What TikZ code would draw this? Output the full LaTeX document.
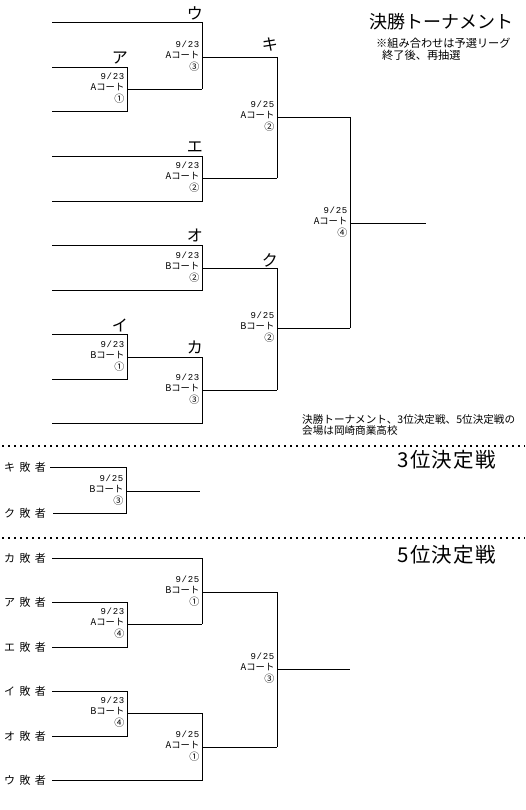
\documentclass[tikz,border=0pt]{standalone}
\usepackage{fontspec}
\setmainfont{Noto Sans CJK JP}
\newfontfamily\datefont[LetterSpace=8]{Liberation Mono}
\newfontfamily\spacedcjk[LetterSpace=40]{Noto Sans CJK JP}
\newfontfamily\headcjk[LetterSpace=7]{Noto Sans CJK JP}
\tikzset{
  br/.style={line width=0.9pt, line join=miter},
  mlab/.style={anchor=east, align=right, inner sep=0pt, font=\fontsize{9.3}{11.5}\selectfont},
  kana/.style={anchor=east, inner sep=0pt, font=\fontsize{16}{16}\selectfont},
  loser/.style={anchor=west, inner sep=0pt, font=\spacedcjk\fontsize{11}{11}\selectfont},
  sep/.style={line width=1.5pt, dash pattern=on 1.5pt off 4.5pt},
  head/.style={anchor=west, inner sep=0pt, font=\headcjk\fontsize{20.5}{20.5}\selectfont},
}
\newcommand\mlabel[6]{\node[mlab] (#1) at (#2-2.5,#3-1) {{\datefont\fontsize{9}{9}\selectfont #4}\\#5\\{\fontsize{10}{10}\selectfont #6}};}
\begin{document}
\begin{tikzpicture}[x=1pt,y=-1pt]
\fill[white] (0,0) rectangle (526,810);
\useasboundingbox (0,0) rectangle (526,810);

% ---------- Final tournament ----------
\coordinate (eU) at (52,22);
\coordinate (eA) at (52,67);
\coordinate (eA2) at (52,111);
\coordinate (eE) at (52,156);
\coordinate (eE2) at (52,201);
\coordinate (eO) at (52,245);
\coordinate (eO2) at (52,290);
\coordinate (eI) at (52,334);
\coordinate (eI2) at (52,379);
\coordinate (eK2) at (52,423);

\coordinate (m1) at (127,89);
\coordinate (m2) at (202,57);
\coordinate (m3) at (202,178);
\coordinate (m4) at (277,117);
\coordinate (m5) at (202,268);
\coordinate (m6) at (127,357);
\coordinate (m7) at (202,390);
\coordinate (m8) at (277,328);
\coordinate (mf) at (350,223);
\coordinate (wf) at (426,223);

\draw[br] (eA) -- (eA -| m1) -- (eA2 -| m1) -- (eA2);
\draw[br] (m1) -- (m1 -| m2);
\draw[br] (eU) -- (eU -| m2) -- (m1 -| m2);
\draw[br] (m2) -- (m2 -| m4);
\draw[br] (eE) -- (eE -| m3) -- (eE2 -| m3) -- (eE2);
\draw[br] (m3) -- (m3 -| m4);
\draw[br] (m2 -| m4) -- (m3 -| m4);
\draw[br] (m4) -- (m4 -| mf);
\draw[br] (eO) -- (eO -| m5) -- (eO2 -| m5) -- (eO2);
\draw[br] (m5) -- (m5 -| m8);
\draw[br] (eI) -- (eI -| m6) -- (eI2 -| m6) -- (eI2);
\draw[br] (m6) -- (m6 -| m7) -- (eK2 -| m7) -- (eK2);
\draw[br] (m7) -- (m7 -| m8);
\draw[br] (m5 -| m8) -- (m7 -| m8);
\draw[br] (m8) -- (m8 -| mf);
\draw[br] (m4 -| mf) -- (m8 -| mf);
\draw[br] (mf) -- (wf);

\mlabel{l1}{127}{89}{9/23}{Aコート}{①}
\mlabel{l2}{202}{57}{9/23}{Aコート}{③}
\mlabel{l3}{202}{178}{9/23}{Aコート}{②}
\mlabel{l4}{277}{117}{9/25}{Aコート}{②}
\mlabel{l5}{202}{268}{9/23}{Bコート}{②}
\mlabel{l6}{127}{357}{9/23}{Bコート}{①}
\mlabel{l7}{202}{390}{9/23}{Bコート}{③}
\mlabel{l8}{277}{328}{9/25}{Bコート}{②}
\mlabel{lf}{350}{223}{9/25}{Aコート}{④}

\node[kana] (kU) at (203,13) {ウ};
\node[kana] (kA) at (128,58) {ア};
\node[kana] (kKi) at (278,45) {キ};
\node[kana] (kE) at (203,147) {エ};
\node[kana] (kO) at (203,235) {オ};
\node[kana] (kKu) at (278,260) {ク};
\node[kana] (kI) at (128,325) {イ};
\node[kana] (kKa) at (203,347) {カ};

\node[anchor=west, inner sep=0pt, font=\fontsize{18}{18}\selectfont] (title) at (369,22) {決勝トーナメント};
\node[anchor=west, inner sep=0pt, font=\fontsize{11.2}{11.2}\selectfont] (note1) at (376,43) {※組み合わせは予選リーグ};
\node[anchor=west, inner sep=0pt, font=\fontsize{11.2}{11.2}\selectfont] (note2) at (382,55) {終了後、再抽選};

\node[anchor=west, inner sep=0pt, align=left, font=\fontsize{10.6}{11}\selectfont] (venue) at (302,425) {決勝トーナメント、3位決定戦、5位決定戦の\\会場は岡崎商業高校};

% separators
\coordinate (s1a) at (2,446);
\coordinate (s1b) at (525,446);
\coordinate (s2a) at (2,538);
\coordinate (s2b) at (525,538);
\draw[sep] (s1a) -- (s1b);
\draw[sep] (s2a) -- (s2b);

% ---------- 3rd place ----------
\node[head] (t3) at (397,460) {3位決定戦};
\node[loser] (lKi) at (4,467) {キ敗者};
\node[loser] (lKu) at (4,513) {ク敗者};
\coordinate (m3p) at (126,491);
\coordinate (w3p) at (200,491);
\draw[br] (lKi.east) ++(4,0) coordinate (a3) -- (a3 -| m3p) -- (m3p |- lKu.east) -- ++(-73,0);
\draw[br] (m3p) -- (w3p);
\mlabel{l3p}{126}{491}{9/25}{Bコート}{③}

% ---------- 5th place ----------
\node[head] (t5) at (397,555) {5位決定戦};
\node[loser] (lKa) at (4,558) {カ敗者};
\node[loser] (lA) at (4,602) {ア敗者};
\node[loser] (lE) at (4,647) {エ敗者};
\node[loser] (lI) at (4,691) {イ敗者};
\node[loser] (lO) at (4,736) {オ敗者};
\node[loser] (lU) at (4,780) {ウ敗者};

\coordinate (f1) at (52,558);
\coordinate (f2) at (52,602);
\coordinate (f3) at (52,647);
\coordinate (f4) at (52,691);
\coordinate (f5) at (52,736);
\coordinate (f6) at (52,780);
\coordinate (n1) at (127,624);
\coordinate (n2) at (202,592);
\coordinate (n3) at (127,713);
\coordinate (n4) at (202,747);
\coordinate (n5) at (277,669);
\coordinate (w5) at (350,669);

\draw[br] (f2) -- (f2 -| n1) -- (f3 -| n1) -- (f3);
\draw[br] (n1) -- (n1 -| n2);
\draw[br] (f1) -- (f1 -| n2) -- (n1 -| n2);
\draw[br] (n2) -- (n2 -| n5);
\draw[br] (f4) -- (f4 -| n3) -- (f5 -| n3) -- (f5);
\draw[br] (n3) -- (n3 -| n4) -- (f6 -| n4) -- (f6);
\draw[br] (n4) -- (n4 -| n5);
\draw[br] (n2 -| n5) -- (n4 -| n5);
\draw[br] (n5) -- (w5);

\mlabel{ln1}{127}{624}{9/23}{Aコート}{④}
\mlabel{ln2}{202}{592}{9/25}{Bコート}{①}
\mlabel{ln3}{127}{713}{9/23}{Bコート}{④}
\mlabel{ln4}{202}{747}{9/25}{Aコート}{①}
\mlabel{ln5}{277}{669}{9/25}{Aコート}{③}
\end{tikzpicture}
\end{document}
